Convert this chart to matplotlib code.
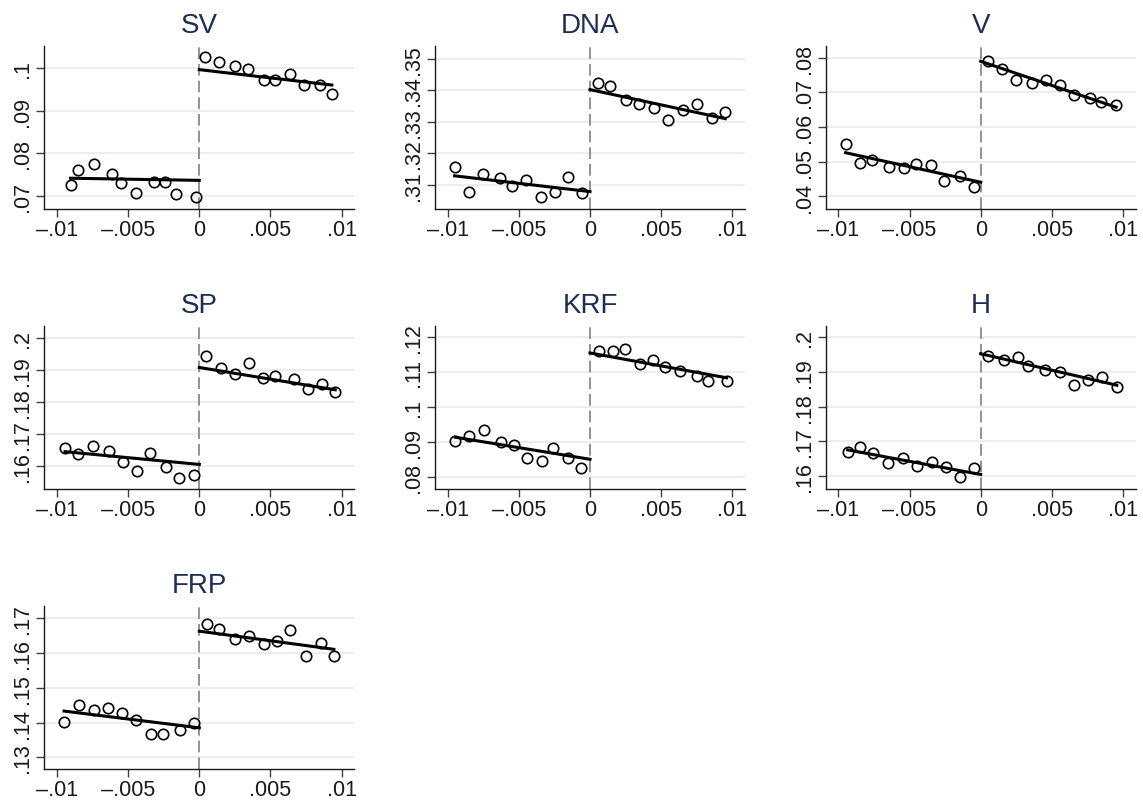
import numpy as np
import matplotlib
matplotlib.use("Agg")
import matplotlib.pyplot as plt

plt.rcParams['font.family'] = ['Liberation Sans', 'DejaVu Sans']

# ---- data (binned means + fitted line ends) ----
titles = ["SV", "DNA", "V", "SP", "KRF", "H", "FRP"]

sv_xl = [-0.00905, -0.00855, -0.00737, -0.00611, -0.0055, -0.00448, -0.00317, -0.00242, -0.00161, -0.00021]
sv_yl = [0.0727, 0.0762, 0.0776, 0.0753, 0.0731, 0.0707, 0.0734, 0.0733, 0.0704, 0.0698]
sv_xr = [0.00037, 0.0014, 0.00252, 0.00345, 0.00455, 0.00529, 0.00641, 0.00737, 0.00851, 0.00932]
sv_yr = [0.1026, 0.1014, 0.1005, 0.0998, 0.0971, 0.0971, 0.0986, 0.0960, 0.0961, 0.0939]
sv_fit = [0.0742, 0.0737, 0.0996, 0.0960]

dna_xl = [-0.00952, -0.00851, -0.0075, -0.00635, -0.00549, -0.00453, -0.00345, -0.00244, -0.00155, -0.00056]
dna_yl = [0.3157, 0.3077, 0.3135, 0.3122, 0.3096, 0.3115, 0.3062, 0.3077, 0.3126, 0.3075]
dna_xr = [0.00054, 0.00141, 0.00251, 0.00347, 0.00448, 0.00546, 0.00654, 0.00753, 0.00856, 0.00952]
dna_yr = [0.3424, 0.3413, 0.3370, 0.3355, 0.3345, 0.3305, 0.3338, 0.3358, 0.3312, 0.3330]
dna_fit = [0.3129, 0.3079, 0.3402, 0.3310]

v_xl = [-0.0095, -0.00846, -0.00761, -0.00646, -0.00541, -0.00458, -0.0035, -0.00256, -0.00143, -0.00049]
v_yl = [0.0552, 0.0496, 0.0505, 0.0485, 0.0481, 0.0494, 0.0492, 0.0445, 0.0458, 0.0428]
v_xr = [0.00054, 0.00148, 0.00249, 0.0036, 0.00461, 0.00555, 0.00656, 0.00768, 0.00844, 0.00952]
v_yr = [0.0789, 0.0767, 0.0736, 0.0727, 0.0734, 0.0720, 0.0692, 0.0683, 0.0671, 0.0663]
v_fit = [0.0526, 0.0441, 0.0789, 0.0657]

sp_xl = [-0.00944, -0.00851, -0.00751, -0.00636, -0.00534, -0.00438, -0.0035, -0.00235, -0.00142, -0.00037]
sp_yl = [0.1656, 0.1636, 0.1663, 0.1647, 0.1611, 0.1583, 0.1639, 0.1596, 0.1563, 0.1570]
sp_xr = [0.00047, 0.00152, 0.00254, 0.00347, 0.00445, 0.00534, 0.00667, 0.00762, 0.00862, 0.00956]
sp_yr = [0.1945, 0.1907, 0.1889, 0.1923, 0.1874, 0.1882, 0.1872, 0.1839, 0.1855, 0.1832]
sp_fit = [0.1644, 0.1604, 0.1908, 0.1838]

krf_xl = [-0.00947, -0.00853, -0.00745, -0.00628, -0.00537, -0.00445, -0.00338, -0.0026, -0.00152, -0.00061]
krf_yl = [0.0904, 0.0918, 0.0934, 0.0901, 0.0892, 0.0855, 0.0846, 0.0883, 0.0856, 0.0825]
krf_xr = [0.00061, 0.00159, 0.00248, 0.00349, 0.00445, 0.0053, 0.00633, 0.0075, 0.00832, 0.00961]
krf_yr = [0.1161, 0.1161, 0.1165, 0.1124, 0.1136, 0.1116, 0.1104, 0.1088, 0.1076, 0.1074]
krf_fit = [0.0914, 0.0851, 0.1155, 0.1084]

h_xl = [-0.00935, -0.00848, -0.00757, -0.00651, -0.00545, -0.00451, -0.00345, -0.00247, -0.00146, -0.00049]
h_yl = [0.1668, 0.1684, 0.1666, 0.1638, 0.1651, 0.1629, 0.1641, 0.1627, 0.1597, 0.1624]
h_xr = [0.00054, 0.00162, 0.00261, 0.00336, 0.00449, 0.00557, 0.00656, 0.00752, 0.00853, 0.00957]
h_yr = [0.1945, 0.1935, 0.1944, 0.1918, 0.1906, 0.1901, 0.1863, 0.1878, 0.1885, 0.1857]
h_fit = [0.1675, 0.1604, 0.1953, 0.1862]

frp_xl = [-0.00951, -0.00848, -0.00737, -0.00643, -0.00541, -0.00443, -0.00343, -0.00252, -0.00133, -0.00035]
frp_yl = [0.1402, 0.1450, 0.1435, 0.1443, 0.1428, 0.1407, 0.1366, 0.1368, 0.1380, 0.1398]
frp_xr = [0.00051, 0.00138, 0.00252, 0.00352, 0.00452, 0.00548, 0.00639, 0.0075, 0.00855, 0.00946]
frp_yr = [0.1683, 0.1669, 0.1640, 0.1647, 0.1625, 0.1633, 0.1665, 0.1590, 0.1627, 0.1592]
frp_fit = [0.1433, 0.1385, 0.1662, 0.1610]

# axis ranges and tick labels
ylims = [(0.067, 0.1052), (0.3024, 0.3541), (0.0364, 0.0834), (0.1527, 0.2039),
         (0.0766, 0.1233), (0.1562, 0.2034), (0.1267, 0.1735)]
yticks = [[0.07, 0.08, 0.09, 0.1], [0.31, 0.32, 0.33, 0.34, 0.35], [0.04, 0.05, 0.06, 0.07, 0.08],
          [0.16, 0.17, 0.18, 0.19, 0.2], [0.08, 0.09, 0.1, 0.11, 0.12], [0.16, 0.17, 0.18, 0.19, 0.2],
          [0.13, 0.14, 0.15, 0.16, 0.17]]
ytick_labels = [[".07", ".08", ".09", ".1"], [".31", ".32", ".33", ".34", ".35"],
                [".04", ".05", ".06", ".07", ".08"], [".16", ".17", ".18", ".19", ".2"],
                [".08", ".09", ".1", ".11", ".12"], [".16", ".17", ".18", ".19", ".2"],
                [".13", ".14", ".15", ".16", ".17"]]
xticks = [-0.01, -0.005, 0, 0.005, 0.01]
xtick_labels = ["\u2013.01", "\u2013.005", "0", ".005", ".01"]

panels = [
    (sv_xl, sv_yl, sv_xr, sv_yr, sv_fit),
    (dna_xl, dna_yl, dna_xr, dna_yr, dna_fit),
    (v_xl, v_yl, v_xr, v_yr, v_fit),
    (sp_xl, sp_yl, sp_xr, sp_yr, sp_fit),
    (krf_xl, krf_yl, krf_xr, krf_yr, krf_fit),
    (h_xl, h_yl, h_xr, h_yr, h_fit),
    (frp_xl, frp_yl, frp_xr, frp_yr, frp_fit),
]

W, H = 1143, 803
fig = plt.figure(figsize=(W / 100, H / 100), dpi=100)

# pixel boxes of the plot regions (left, top)
col_left = [44.3, 435, 825.7]
row_top = [46.7, 326.7, 606.7]
ax_w, ax_h = 310, 163.3

title_col = '#1e2d55'
grid_col = '#e6eef1'

for i, (xl, yl, xr, yr, fit) in enumerate(panels):
    r, c = divmod(i, 3)
    left = col_left[c]
    top = row_top[r]
    ax = fig.add_axes([left / W, (H - top - ax_h) / H, ax_w / W, ax_h / H])

    ax.set_xlim(-0.0109, 0.0109)
    ax.set_ylim(*ylims[i])

    for yt in yticks[i]:
        ax.axhline(yt, color=grid_col, lw=1.3, zorder=0)
    ax.axvline(0, color='#808080', lw=1.2, dashes=(7, 3), zorder=1)

    ax.plot([xl[0], 0], fit[:2], color='black', lw=2.2, zorder=3)
    ax.plot([0, xr[-1]], fit[2:], color='black', lw=2.2, zorder=3)
    ax.plot(xl, yl, 'o', mfc='none', mec='black', ms=7.5, mew=1.2, zorder=4)
    ax.plot(xr, yr, 'o', mfc='none', mec='black', ms=7.5, mew=1.2, zorder=4)

    ax.set_xticks(xticks)
    ax.set_xticklabels(xtick_labels)
    ax.set_yticks(yticks[i])
    ax.set_yticklabels(ytick_labels[i], rotation=90, va='center')
    ax.tick_params(axis='both', labelsize=15.5, length=6, width=1, color='#404040',
                   labelcolor='#1a1a1a')
    ax.tick_params(axis='x', pad=1.5)
    ax.tick_params(axis='y', pad=2)

    for s in ['top', 'right']:
        ax.spines[s].set_visible(False)
    for s in ['left', 'bottom']:
        ax.spines[s].set_color('#1a1a1a')
        ax.spines[s].set_linewidth(1)

    ax.set_title(titles[i], fontsize=20, color=title_col, pad=10)

fig.savefig("out.png", dpi=100, facecolor='white')
